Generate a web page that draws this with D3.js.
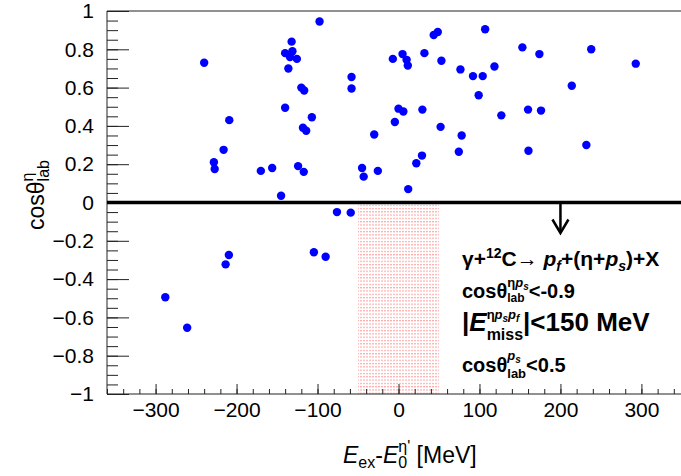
<!DOCTYPE html>
<html><head><meta charset="utf-8">
<script src="https://cdn.jsdelivr.net/npm/d3@7"></script>
<style>
body{margin:0;background:#fff}
svg{display:block}
text{font-family:"Liberation Sans",Arial,Helvetica,sans-serif}
</style>
</head><body>
<svg id="c" width="681" height="476"></svg>
<script>
// ---- data ----
const xValues = [-240,-132,-140,-131,-134,-125.5,-136,-140,-209,-216,-228,-227,-170,-156,-145,
  -120,-116.5,-107,-118,-114,-124,-117,
  -97.5,-58,-58,-30,-45,-43,-25.5,12,-7,5,10,11.5,32,43.5,48.5,53,107,76.5,92,104,99,0,6,29.5,-4.5,52,78,74.5,29,22,
  153,174,238,293,118.5,214,127,160,176,160.5,232,
  -76,-59,-104.5,-90,-209.5,-213.5,-288,-261];
const yValues = [0.73,0.84,0.78,0.79,0.76,0.75,0.70,0.495,0.43,0.275,0.21,0.175,0.165,0.18,0.035,
  0.60,0.585,0.445,0.39,0.375,0.19,0.16,
  0.945,0.655,0.595,0.355,0.18,0.135,0.165,0.07,0.75,0.775,0.745,0.715,0.78,0.875,0.89,0.74,0.905,0.695,0.66,0.66,0.56,0.49,0.475,0.485,0.42,0.395,0.35,0.265,0.245,0.205,
  0.81,0.775,0.80,0.725,0.71,0.61,0.455,0.485,0.48,0.27,0.30,
  -0.05,-0.053,-0.26,-0.283,-0.274,-0.323,-0.495,-0.654];
const xTickValues = [-300,-200,-100,0,100,200,300];
const xTickLabels = ["\u2212300","\u2212200","\u2212100","0","100","200","300"];
const yTickValues = [-1,-0.8,-0.6,-0.4,-0.2,0,0.2,0.4,0.6,0.8,1];
const yTickLabels = ["\u22121","\u22120.8","\u22120.6","\u22120.4","\u22120.2","0","0.2","0.4","0.6","0.8","1"];
const xDomain = [-360, 360];
const yDomain = [-1, 1];
const bandRange = [-50, 50];
const arrowAt = 200;

// ---- layout ----
const svg = d3.select("#c");
const x = d3.scaleLinear().domain(xDomain).range([107, 690]);
const y = d3.scaleLinear().domain(yDomain).range([394, 11]);
const L = 107, R = 690, T = 11, B = 394;

const defs = svg.append("defs");
const pat = defs.append("pattern").attr("id","dots").attr("patternUnits","userSpaceOnUse")
  .attr("width",3).attr("height",3.3);
pat.append("rect").attr("x",0).attr("y",0).attr("width",2).attr("height",1.2)
  .attr("fill","#ff6a6a").attr("opacity",0.55);

// shaded band
svg.append("rect")
  .attr("x", x(bandRange[0])).attr("width", x(bandRange[1]) - x(bandRange[0]))
  .attr("y", y(0) + 2).attr("height", y(-1) - y(0) - 2)
  .attr("fill","url(#dots)");

// frame
svg.append("path").attr("d",`M${R},${T}H${L}V${B}H${R}`).attr("fill","none")
  .attr("stroke","#222").attr("stroke-width",1);

// y axis
const minorY = d3.range(-20, 21).map(k => k * 0.05);
const gyMinor = svg.append("g").attr("transform",`translate(${L},0)`)
  .call(d3.axisLeft(y).tickValues(minorY).tickSize(-11).tickFormat(""));
const gy = svg.append("g").attr("transform",`translate(${L},0)`)
  .call(d3.axisLeft(y).tickValues(yTickValues).tickSize(-22).tickPadding(13)
    .tickFormat((d,i) => yTickLabels[i]));
// x axis
const minorX = d3.range(-18, 19).map(k => k * 20);
const gxMinor = svg.append("g").attr("transform",`translate(0,${B})`)
  .call(d3.axisBottom(x).tickValues(minorX).tickSize(-5).tickFormat(""));
const gx = svg.append("g").attr("transform",`translate(0,${B})`)
  .call(d3.axisBottom(x).tickValues(xTickValues).tickSize(-10).tickPadding(8)
    .tickFormat((d,i) => xTickLabels[i]));
[gy, gyMinor, gx, gxMinor].forEach(g => {
  g.select(".domain").remove();
  g.selectAll(".tick line").attr("stroke","#222").attr("stroke-width",1);
  g.attr("font-family", null).attr("font-size", null);
  g.selectAll("text").attr("font-size", 21).attr("fill","#000")
    .style("font-family",'"Liberation Sans",Arial,sans-serif');
});

// zero line
svg.append("line").attr("x1", L).attr("x2", R).attr("y1", y(0)).attr("y2", y(0))
  .attr("stroke","#000").attr("stroke-width",3.5);

// arrow
const ax = x(arrowAt), ay = y(0);
svg.append("line").attr("x1",ax).attr("x2",ax).attr("y1",ay).attr("y2",ay+30)
  .attr("stroke","#000").attr("stroke-width",2.5);
svg.append("polyline").attr("points",`${ax-8},${ay+17} ${ax},${ay+30.5} ${ax+8},${ay+17}`)
  .attr("fill","none").attr("stroke","#000").attr("stroke-width",2.5);

// points
svg.append("g").selectAll("circle").data(xValues.map((v,i)=>[v,yValues[i]])).join("circle")
  .attr("cx", d => x(d[0])).attr("cy", d => y(d[1])).attr("r", 4.2).attr("fill","#0000ff");

// rich text helper
function rich(g, x0, base, items, bold) {
  function put(it, xx) {
    const t = g.append("text").attr("x", xx).attr("y", base + (it.dy || 0))
      .attr("font-size", it.fs).attr("font-weight", bold ? "bold" : "normal")
      .attr("font-style", it.it ? "italic" : "normal").attr("fill","#000").text(it.t);
    return t.node().getComputedTextLength() + (it.k || 0);
  }
  function run(list, xx) {
    let w = 0;
    for (const it of list) {
      if (it.stack) { const a = run(it.stack[0], xx + w), b = run(it.stack[1], xx + w); w += Math.max(a, b); }
      else w += put(it, xx + w);
    }
    return w;
  }
  return run(items, x0);
}

// annotation
const ann = svg.append("g");
rich(ann, 462, 266, [
  {t:"\u03b3+", fs:21}, {t:"12", fs:14, dy:-8}, {t:"C\u2192\u00a0", fs:21},
  {t:"p", fs:21, it:1}, {t:"f", fs:14, dy:5, it:1}, {t:"+(\u03b7+", fs:21},
  {t:"p", fs:21, it:1}, {t:"s", fs:14, dy:5, it:1}, {t:")+X", fs:21}
], true);
rich(ann, 462, 298, [
  {t:"cos\u03b8", fs:20},
  {stack:[[{t:"\u03b7", fs:13, dy:-11}, {t:"p", fs:13, dy:-11, it:1}, {t:"s", fs:10, dy:-8, it:1}],
          [{t:"lab", fs:12, dy:4}]]},
  {t:"<-0.9", fs:20}
], true);
rich(ann, 462, 331, [
  {t:"|", fs:26}, {t:"E", fs:26, it:1},
  {stack:[[{t:"\u03b7", fs:13, dy:-12}, {t:"p", fs:13, dy:-12, it:1}, {t:"s", fs:10, dy:-9, it:1},
           {t:"p", fs:13, dy:-12, it:1}, {t:"f", fs:10, dy:-9, it:1}],
          [{t:"miss", fs:16, dy:9}]]},
  {t:"|<150 MeV", fs:26}
], true);
rich(ann, 462, 372, [
  {t:"cos\u03b8", fs:20},
  {stack:[[{t:"p", fs:13, dy:-12, it:1}, {t:"s", fs:10, dy:-9, it:1}],
          [{t:"lab", fs:13, dy:6}]]},
  {t:"<0.5", fs:20}
], true);

// x title
const xt = svg.append("g");
rich(xt, 343, 463, [
  {t:"E", fs:23, it:1}, {t:"ex", fs:16, dy:5}, {t:"-", fs:23}, {t:"E", fs:23, it:1},
  {stack:[[{t:"\u03b7'", fs:16, dy:-11}], [{t:"0", fs:16, dy:5}]]},
  {t:"\u00a0[MeV]", fs:23}
], false);

// y title
const yt = svg.append("g").attr("transform","translate(44,230) rotate(-90)");
rich(yt, 0, 0, [
  {t:"cos\u03b8", fs:23},
  {stack:[[{t:"\u03b7", fs:16, dy:-11}], [{t:"lab", fs:16, dy:5}]]}
], false);
</script>
</body></html>
